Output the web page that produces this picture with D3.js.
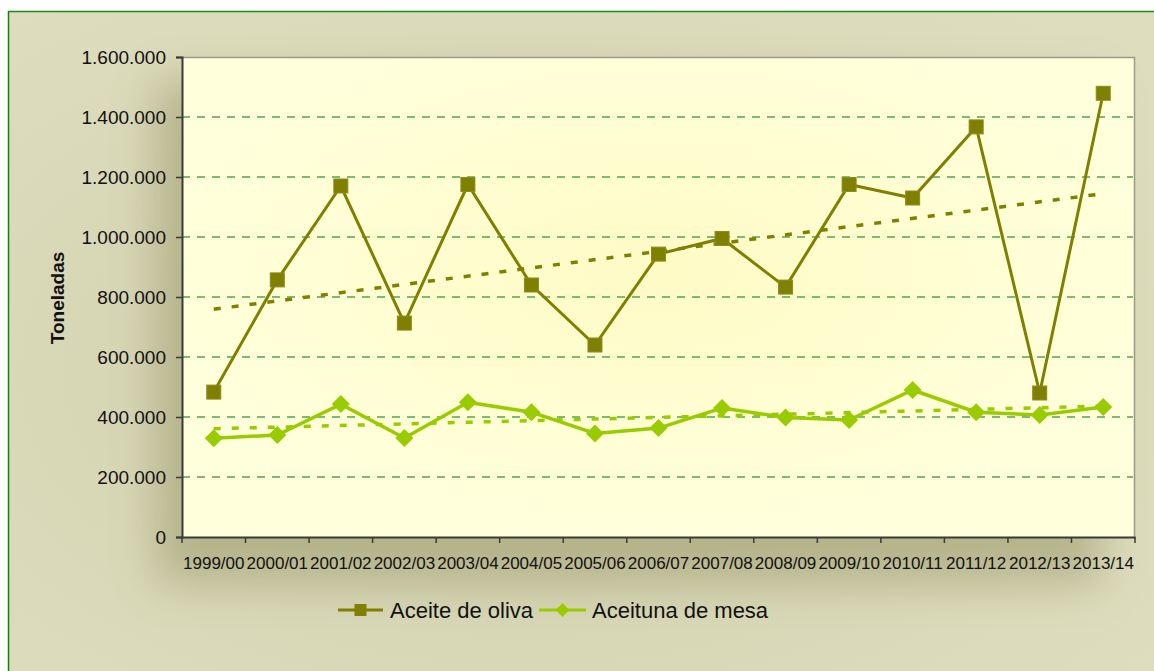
<!DOCTYPE html>
<html>
<head>
<meta charset="utf-8">
<script src="https://cdn.jsdelivr.net/npm/d3@7"></script>
<style>
  html, body { margin: 0; padding: 0; background: #ffffff; }
  svg { display: block; font-family: "Liberation Sans", Arial, sans-serif; }
</style>
</head>
<body>
<svg id="chart" width="1154" height="671"></svg>
<script>
// ---- Data ----
const categories = ["1999/00","2000/01","2001/02","2002/03","2003/04","2004/05","2005/06","2006/07","2007/08","2008/09","2009/10","2010/11","2011/12","2012/13","2013/14"];
const aceiteOliva = [483000, 857000, 1170000, 713000, 1175000, 840000, 640000, 943000, 995000, 833000, 1175000, 1130000, 1367000, 480000, 1479000];
const aceitunaMesa = [329000, 340000, 443000, 330000, 449000, 416000, 345000, 363000, 430000, 398000, 390000, 490000, 416000, 407000, 433000];
const yTicks = [0, 200000, 400000, 600000, 800000, 1000000, 1200000, 1400000, 1600000];
const seriesNames = ["Aceite de oliva", "Aceituna de mesa"];
const yLabel = "Toneladas";

// ---- Layout ----
const W = 1154, H = 671;
const plot = { left: 182, top: 57, right: 1135, bottom: 537 };
const OLIVE = "#808000", GREEN = "#99CC00";

const svg = d3.select("#chart");
const defs = svg.append("defs");

const bgGrad = defs.append("radialGradient").attr("id", "bgGrad")
  .attr("cx", "45%").attr("cy", "55%").attr("r", "70%");
bgGrad.append("stop").attr("offset", "0%").attr("stop-color", "#CFCEAB");
bgGrad.append("stop").attr("offset", "100%").attr("stop-color", "#DEDDBE");

const shadow = defs.append("filter").attr("id", "shadow")
  .attr("x", "-20%").attr("y", "-20%").attr("width", "140%").attr("height", "140%");
shadow.append("feGaussianBlur").attr("stdDeviation", 22);

const plotGrad = defs.append("radialGradient").attr("id", "plotGrad")
  .attr("cx", "50%").attr("cy", "45%").attr("r", "55%");
plotGrad.append("stop").attr("offset", "0%").attr("stop-color", "#FFFBC6");
plotGrad.append("stop").attr("offset", "100%").attr("stop-color", "#FFFFDC");

const clip = defs.append("clipPath").attr("id", "areaClip");
clip.append("rect").attr("x", 8).attr("y", 11).attr("width", W - 8).attr("height", H - 11);

// outer chart background
svg.append("rect").attr("x", 8).attr("y", 11).attr("width", W - 8).attr("height", H - 11)
  .attr("fill", "url(#bgGrad)");
// soft shadow of plot area (toward bottom-left)
svg.append("g").attr("clip-path", "url(#areaClip)")
  .append("rect").attr("x", plot.left - 25).attr("y", plot.top + 25)
  .attr("width", plot.right - plot.left - 10).attr("height", plot.bottom - plot.top + 20)
  .attr("fill", "#A9A77C").attr("opacity", 0.75).attr("filter", "url(#shadow)");
svg.append("line").attr("x1", 8).attr("x2", W).attr("y1", 11.5).attr("y2", 11.5)
  .attr("stroke", "#1E8A1E").attr("stroke-width", 1.5);
svg.append("line").attr("x1", 8.5).attr("x2", 8.5).attr("y1", 11).attr("y2", H)
  .attr("stroke", "#0A880A").attr("stroke-width", 1.5);

// scales
const x = d3.scaleBand().domain(categories).range([plot.left, plot.right]).padding(0);
const y = d3.scaleLinear().domain([0, 1600000]).range([plot.bottom, plot.top]);
const cx = d => x(d) + x.bandwidth() / 2;

// plot area
svg.append("rect").attr("x", plot.left).attr("y", plot.top)
  .attr("width", plot.right - plot.left).attr("height", plot.bottom - plot.top)
  .attr("fill", "url(#plotGrad)");
svg.append("path")
  .attr("d", `M${plot.left},${plot.top + 0.5}H${plot.right - 0.5}V${plot.bottom}`)
  .attr("fill", "none").attr("stroke", "#9A9A8A").attr("stroke-width", 1.5);

// gridlines
svg.append("g").selectAll("line").data(yTicks.filter(t => t > 0 && t < 1600000)).join("line")
  .attr("x1", plot.left).attr("x2", plot.right - 2)
  .attr("y1", d => y(d)).attr("y2", d => y(d))
  .attr("stroke", "#4FA84F").attr("stroke-width", 1.5).attr("stroke-dasharray", "8,7");

// number format es
const loc = d3.formatLocale({ decimal: ",", thousands: ".", grouping: [3], currency: ["", ""] });
const fmt = loc.format(",d");

// y axis
const yAxis = svg.append("g").attr("transform", `translate(${plot.left},0)`)
  .call(d3.axisLeft(y).tickValues(yTicks).tickFormat(fmt).tickSize(6).tickPadding(10));
yAxis.select(".domain").attr("stroke", "#3A3A3A").attr("stroke-width", 2);
yAxis.selectAll(".tick line").attr("stroke", "#3A3A3A").attr("stroke-width", 1.5);
yAxis.selectAll(".tick text").attr("font-size", 19).attr("fill", "#111")
  .attr("font-family", "Liberation Sans, Arial, sans-serif");

// x axis
const xAxis = svg.append("g").attr("transform", `translate(0,${plot.bottom})`)
  .call(d3.axisBottom(x).tickSize(0).tickPadding(20));
xAxis.select(".domain").attr("stroke", "#3A3A3A").attr("stroke-width", 2);
xAxis.selectAll(".tick text").attr("font-size", 17).attr("fill", "#111")
  .attr("font-family", "Liberation Sans, Arial, sans-serif");
xAxis.selectAll("line.bound").data(categories.map(c => x(c)).concat([x.range()[1]])).join("line")
  .attr("class", "bound")
  .attr("x1", d => d).attr("x2", d => d).attr("y1", 0).attr("y2", 6)
  .attr("stroke", "#3A3A3A").attr("stroke-width", 1.5);

// y label
svg.append("text").attr("transform", "translate(64,298) rotate(-90)")
  .attr("text-anchor", "middle").attr("font-size", 19).attr("font-weight", "bold")
  .attr("fill", "#111").text(yLabel);

// trendlines (least squares from data)
function trend(vals) {
  const n = vals.length, xs = d3.range(n);
  const mx = d3.mean(xs), my = d3.mean(vals);
  const b = d3.sum(xs, (xi, i) => (xi - mx) * (vals[i] - my)) / d3.sum(xs, xi => (xi - mx) ** 2);
  const a = my - b * mx;
  return [[0, a], [n - 1, a + b * (n - 1)]];
}
function drawTrend(vals, color) {
  const t = trend(vals);
  svg.append("line")
    .attr("x1", cx(categories[t[0][0]])).attr("y1", y(t[0][1]))
    .attr("x2", cx(categories[t[1][0]])).attr("y2", y(t[1][1]))
    .attr("stroke", color).attr("stroke-width", 3.5).attr("stroke-dasharray", "7,11");
}
drawTrend(aceiteOliva, OLIVE);
drawTrend(aceitunaMesa, GREEN);

// series lines
const line = d3.line().x((d, i) => cx(categories[i])).y(d => y(d));
svg.append("path").datum(aceiteOliva).attr("d", line)
  .attr("fill", "none").attr("stroke", OLIVE).attr("stroke-width", 3);
svg.append("path").datum(aceitunaMesa).attr("d", line)
  .attr("fill", "none").attr("stroke", GREEN).attr("stroke-width", 3.5);

// markers
const sq = 14;
svg.append("g").selectAll("rect").data(aceiteOliva).join("rect")
  .attr("x", (d, i) => cx(categories[i]) - sq / 2).attr("y", d => y(d) - sq / 2)
  .attr("width", sq).attr("height", sq).attr("fill", OLIVE)
  .attr("stroke", "#8C8C20").attr("stroke-width", 1);
const dia = 9;
svg.append("g").selectAll("path").data(aceitunaMesa).join("path")
  .attr("d", (d, i) => {
    const px = cx(categories[i]), py = y(d);
    return `M${px},${py - dia}L${px + dia},${py}L${px},${py + dia}L${px - dia},${py}Z`;
  })
  .attr("fill", GREEN);

// legend
const lg = svg.append("g");
const legendItems = [
  { name: seriesNames[0], color: OLIVE, x1: 338, x2: 383, tx: 390, shape: "square" },
  { name: seriesNames[1], color: GREEN, x1: 539, x2: 586, tx: 592, shape: "diamond" }
];
const ly = 610;
legendItems.forEach(it => {
  lg.append("line").attr("x1", it.x1).attr("x2", it.x2).attr("y1", ly).attr("y2", ly)
    .attr("stroke", it.color).attr("stroke-width", 3);
  const mx = (it.x1 + it.x2) / 2;
  if (it.shape === "square") {
    lg.append("rect").attr("x", mx - 6).attr("y", ly - 6).attr("width", 12).attr("height", 12).attr("fill", it.color);
  } else {
    lg.append("path").attr("d", `M${mx},${ly - 7}L${mx + 7},${ly}L${mx},${ly + 7}L${mx - 7},${ly}Z`).attr("fill", it.color);
  }
  lg.append("text").attr("x", it.tx).attr("y", ly + 8).attr("font-size", 22).attr("fill", "#111").text(it.name);
});
</script>
</body>
</html>
